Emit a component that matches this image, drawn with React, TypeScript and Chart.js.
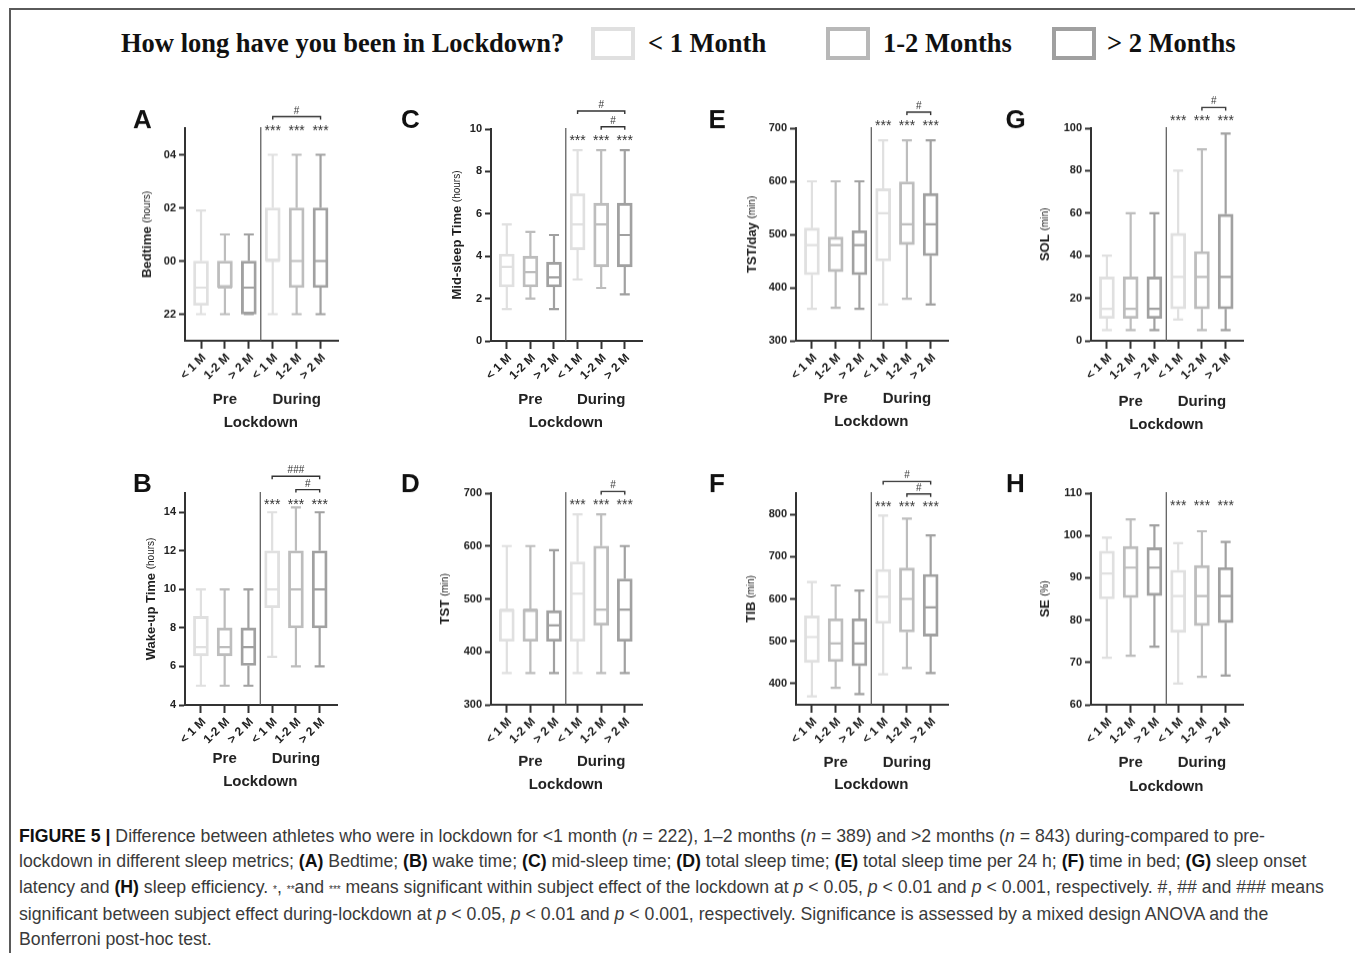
import React, { useEffect, useRef } from 'react';
import { Chart, registerables } from 'chart.js';

Chart.register(...registerables);

// ---------- DATA ----------
const categories = ['< 1 M', '1-2 M', '> 2 M', '< 1 M', '1-2 M', '> 2 M'];
const groupLabels = ['< 1 Month', '1-2 Months', '> 2 Months'];
const groupColors = ['#e0e0e0', '#bdbdbd', '#a1a1a1'];
const legendColors = ['#e0e0e0', '#b8b8b8', '#a0a0a0'];

// each entry: [min, q1, median, q3, max]
const bedtime = [
  [22, 22.33, 23, 24, 25.9], [22, 23, 23, 24, 25], [22, 22, 23, 24, 25],
  [22, 24, 24, 26, 28], [22, 23, 24, 26, 28], [22, 23, 24, 26, 28],
];
const bedtimeTicks = [22, 24, 26, 28];

const wakeTime = [
  [5, 6.55, 7, 8.6, 10], [5, 6.55, 7, 8, 10], [5, 6.05, 7, 8, 10],
  [6.5, 9.05, 10, 12, 14], [6, 8, 10, 12, 14.25], [6, 8, 10, 12, 14],
];
const wakeTicks = [4, 6, 8, 10, 12, 14];

const midSleep = [
  [1.5, 2.55, 3.5, 4.1, 5.5], [2, 2.55, 3.25, 4, 5.15], [1.5, 2.55, 3, 3.72, 5],
  [2.9, 4.3, 5.5, 6.95, 9], [2.5, 3.5, 5.5, 6.5, 9], [2.2, 3.5, 5, 6.5, 9],
];
const midSleepTicks = [0, 2, 4, 6, 8, 10];

const tst = [
  [360, 420, 480, 480, 600], [360, 420, 480, 480, 600], [360, 420, 450, 478, 592],
  [360, 420, 510, 570, 660], [360, 450, 480, 600, 660], [360, 420, 480, 538, 600],
];
const tstTicks = [300, 400, 500, 600, 700];

const tstDay = [
  [360, 424, 480, 512, 600], [362, 430, 480, 495, 600], [360, 424, 480, 507, 600],
  [368, 450, 540, 586, 677], [379, 481, 519, 599, 677], [368, 460, 519, 577, 677],
];
const tstDayTicks = [300, 400, 500, 600, 700];

const tib = [
  [370, 450, 510, 560, 640], [390, 452, 495, 553, 632], [375, 442, 495, 553, 620],
  [422, 542, 605, 670, 797], [437, 522, 600, 673, 790], [425, 512, 580, 658, 750],
];
const tibTicks = [400, 500, 600, 700, 800];

const sol = [
  [5, 10.5, 15, 30, 40], [5, 10.5, 15, 30, 60], [5, 10.5, 15, 30, 60],
  [10, 15, 30, 50.5, 80], [5, 15, 30, 42, 90], [5, 15, 30, 59.5, 97.5],
];
const solTicks = [0, 20, 40, 60, 80, 100];

const se = [
  [71.1, 85, 91, 96.3, 99.5], [71.6, 85.3, 92.4, 97.4, 103.8], [73.7, 85.8, 92.4, 97.1, 102.4],
  [65, 77.1, 85.7, 91.8, 98.2], [66.6, 78.7, 85.7, 92.9, 101], [66.9, 79.4, 85.7, 92.4, 98.5],
];
const seTicks = [60, 70, 80, 90, 100, 110];

// ---------- LAYOUT ----------
type Bracket = { from: number; to: number; dy: number; label: string };
type Panel = {
  letter: string; title: string; unit: string;
  data: number[][]; yMin: number; yMax: number; yTicks: number[];
  fmt?: (v: number) => string;
  plot: { l: number; r: number; t: number; b: number };
  letterDx: number; letterDy: number; titleDx: number; starsDy: number;
  brackets: Bracket[]; preDy: number; lockDy: number;
};

const hourFmt = (v: number) => String(((v % 24) + 24) % 24).padStart(2, '0');

const panels: Panel[] = [
  { letter: 'A', title: 'Bedtime', unit: '(hours)', data: bedtime, yMin: 21, yMax: 29, yTicks: bedtimeTicks, fmt: hourFmt,
    plot: { l: 185, r: 338, t: 128.3, b: 341 }, letterDx: -52, letterDy: 0, titleDx: -38, starsDy: -1,
    brackets: [{ from: 3, to: 5, dy: -11.5, label: '#' }], preDy: 59, lockDy: 82 },
  { letter: 'C', title: 'Mid-sleep Time', unit: '(hours)', data: midSleep, yMin: 0, yMax: 10, yTicks: midSleepTicks,
    plot: { l: 490.7, r: 641.7, t: 129, b: 341 }, letterDx: -90, letterDy: -0.7, titleDx: -34, starsDy: 7.7,
    brackets: [{ from: 3, to: 5, dy: -18, label: '#' }, { from: 4, to: 5, dy: -2.3, label: '#' }], preDy: 59, lockDy: 82 },
  { letter: 'E', title: 'TST/day', unit: '(min)', data: tstDay, yMin: 300, yMax: 700, yTicks: tstDayTicks,
    plot: { l: 795.7, r: 948.3, t: 128.3, b: 341 }, letterDx: -87.5, letterDy: 0, titleDx: -44, starsDy: -5.6,
    brackets: [{ from: 4, to: 5, dy: -16, label: '#' }], preDy: 58, lockDy: 81 },
  { letter: 'G', title: 'SOL', unit: '(min)', data: sol, yMin: 0, yMax: 100, yTicks: solTicks,
    plot: { l: 1090.7, r: 1242.7, t: 128.3, b: 341 }, letterDx: -85.5, letterDy: 0, titleDx: -45.7, starsDy: -10.6,
    brackets: [{ from: 4, to: 5, dy: -20.6, label: '#' }], preDy: 61, lockDy: 84 },
  { letter: 'B', title: 'Wake-up Time', unit: '(hours)', data: wakeTime, yMin: 4, yMax: 15, yTicks: wakeTicks,
    plot: { l: 185, r: 337.3, t: 492.7, b: 705 }, letterDx: -52, letterDy: -1, titleDx: -33.3, starsDy: 8,
    brackets: [{ from: 3, to: 5, dy: -16.7, label: '###' }, { from: 4, to: 5, dy: -3.4, label: '#' }], preDy: 54, lockDy: 77 },
  { letter: 'D', title: 'TST', unit: '(min)', data: tst, yMin: 300, yMax: 700, yTicks: tstTicks,
    plot: { l: 490.7, r: 641.7, t: 493.3, b: 705 }, letterDx: -90, letterDy: -1, titleDx: -45.7, starsDy: 8.4,
    brackets: [{ from: 4, to: 5, dy: -1.6, label: '#' }], preDy: 57, lockDy: 80 },
  { letter: 'F', title: 'TIB', unit: '(min)', data: tib, yMin: 350, yMax: 850, yTicks: tibTicks,
    plot: { l: 796, r: 948.3, t: 493.3, b: 705 }, letterDx: -87, letterDy: -1, titleDx: -44.3, starsDy: 10,
    brackets: [{ from: 3, to: 5, dy: -11.6, label: '#' }, { from: 4, to: 5, dy: 0.7, label: '#' }], preDy: 58, lockDy: 80 },
  { letter: 'H', title: 'SE', unit: '(%)', data: se, yMin: 60, yMax: 110, yTicks: seTicks,
    plot: { l: 1090.7, r: 1242.7, t: 493.3, b: 705 }, letterDx: -85, letterDy: -1, titleDx: -45.7, starsDy: 9.4,
    brackets: [], preDy: 58, lockDy: 82 },
];

const SANS = "'Liberation Sans', Arial, Helvetica, sans-serif";
const INK = '#222';
const ML = 100, MT = 45, MR = 10, MB = 100;

function makePlugin(p: Panel) {
  return {
    id: 'boxExtras',
    afterDatasetsDraw(chart: any) {
      const { ctx, chartArea: ca, scales } = chart;
      const x = scales.x, y = scales.y;
      ctx.save();
      // separator Pre | During
      const sx = x.getPixelForValue(2.5);
      ctx.strokeStyle = '#555';
      ctx.lineWidth = 1.2;
      ctx.beginPath();
      ctx.moveTo(sx, ca.top - 1);
      ctx.lineTo(sx, ca.bottom);
      ctx.stroke();
      // whiskers + medians
      p.data.forEach((d, i) => {
        const cx = x.getPixelForValue(i);
        const [mn, q1, med, q3, mx] = d.map((v) => y.getPixelForValue(v));
        ctx.strokeStyle = groupColors[i % 3];
        ctx.lineWidth = 2.2;
        ctx.beginPath();
        ctx.moveTo(cx, q3); ctx.lineTo(cx, mx);
        ctx.moveTo(cx - 5, mx); ctx.lineTo(cx + 5, mx);
        ctx.moveTo(cx, q1); ctx.lineTo(cx, mn);
        ctx.moveTo(cx - 5, mn); ctx.lineTo(cx + 5, mn);
        ctx.moveTo(cx - 7, med); ctx.lineTo(cx + 7, med);
        ctx.stroke();
      });
      // stars
      ctx.fillStyle = '#333';
      ctx.font = `14px ${SANS}`;
      ctx.textAlign = 'center';
      ctx.textBaseline = 'alphabetic';
      [3, 4, 5].forEach((i) => {
        ctx.fillText('***', x.getPixelForValue(i), ca.top + p.starsDy + 0.57 * 14);
      });
      // brackets
      ctx.strokeStyle = '#333';
      ctx.lineWidth = 1.4;
      ctx.font = `10px ${SANS}`;
      p.brackets.forEach((b) => {
        const x1 = x.getPixelForValue(b.from), x2 = x.getPixelForValue(b.to);
        const by = ca.top + b.dy;
        ctx.beginPath();
        ctx.moveTo(x1, by + 3); ctx.lineTo(x1, by); ctx.lineTo(x2, by); ctx.lineTo(x2, by + 3);
        ctx.stroke();
        ctx.fillText(b.label, (x1 + x2) / 2, by - 3);
      });
      // panel letter
      ctx.fillStyle = '#111';
      ctx.font = `bold 26px ${SANS}`;
      ctx.textAlign = 'left';
      ctx.fillText(p.letter, ca.left + p.letterDx, ca.top + p.letterDy);
      // y-axis title (mixed weights)
      ctx.save();
      ctx.translate(ca.left + p.titleDx, (ca.top + ca.bottom) / 2);
      ctx.rotate(-Math.PI / 2);
      ctx.textBaseline = 'middle';
      const mainFont = `bold 13px ${SANS}`, unitFont = `10px ${SANS}`;
      ctx.font = mainFont;
      const w1 = ctx.measureText(p.title + ' ').width;
      ctx.font = unitFont;
      const w2 = ctx.measureText(p.unit).width;
      const start = -(w1 + w2) / 2;
      ctx.fillStyle = INK;
      ctx.font = mainFont;
      ctx.fillText(p.title + ' ', start, 0);
      ctx.font = unitFont;
      ctx.fillText(p.unit, start + w1, 0);
      ctx.restore();
      // group labels
      ctx.fillStyle = INK;
      ctx.font = `bold 15px ${SANS}`;
      ctx.textAlign = 'center';
      ctx.textBaseline = 'middle';
      ctx.fillText('Pre', x.getPixelForValue(1), ca.bottom + p.preDy);
      ctx.fillText('During', x.getPixelForValue(4), ca.bottom + p.preDy);
      ctx.fillText('Lockdown', x.getPixelForValue(2.5), ca.bottom + p.lockDy);
      ctx.restore();
    },
  };
}

function BoxPanel({ p }: { p: Panel }) {
  const ref = useRef<HTMLCanvasElement>(null);
  const width = p.plot.r - p.plot.l + ML + MR;
  const height = p.plot.b - p.plot.t + MT + MB;
  useEffect(() => {
    const chart = new Chart(ref.current as HTMLCanvasElement, {
      type: 'bar',
      data: {
        datasets: [{
          data: p.data.map((d, i) => ({ x: i, y: [d[1], d[3]] })) as any,
          backgroundColor: 'rgba(0,0,0,0)',
          borderColor: p.data.map((_, i) => groupColors[i % 3]),
          borderWidth: 2.2,
          borderSkipped: false,
          barThickness: 15,
        }],
      },
      options: {
        responsive: false,
        animation: false,
        events: [],
        layout: { padding: { left: 0, top: MT, right: MR, bottom: 0 } },
        plugins: { legend: { display: false }, tooltip: { enabled: false } },
        scales: {
          x: {
            type: 'linear', min: -0.67, max: 5.73, offset: false, bounds: 'data',
            afterBuildTicks: (s: any) => { s.ticks = categories.map((_, i) => ({ value: i })); },
            afterFit: (s: any) => { s.height = MB; },
            ticks: {
              callback: (v: any) => categories[Math.round(Number(v))],
              minRotation: 45, maxRotation: 45, autoSkip: false, padding: 2, labelOffset: 3,
              color: INK, font: { family: SANS, size: 12, weight: 'bold' },
            },
            grid: { display: true, drawOnChartArea: false, drawTicks: true, tickLength: 8, tickWidth: 2, tickColor: '#333', offset: false },
            border: { display: true, color: '#333', width: 2 },
          },
          y: {
            type: 'linear', min: p.yMin, max: p.yMax, bounds: 'data',
            afterBuildTicks: (s: any) => { s.ticks = p.yTicks.map((v) => ({ value: v })); },
            afterFit: (s: any) => { s.width = ML; },
            ticks: {
              callback: (v: any) => (p.fmt ? p.fmt(Number(v)) : String(v)),
              padding: 3, color: INK, font: { family: SANS, size: 11, weight: 'bold' },
            },
            grid: { display: true, drawOnChartArea: false, drawTicks: true, tickLength: 6, tickWidth: 2, tickColor: '#333' },
            border: { display: true, color: '#333', width: 2 },
          },
        },
      } as any,
      plugins: [makePlugin(p)],
    });
    return () => chart.destroy();
  }, [p]);
  return (
    <canvas
      ref={ref}
      width={width}
      height={height}
      style={{ position: 'absolute', left: p.plot.l - ML, top: p.plot.t - MT, width, height }}
    />
  );
}

const legendItems = [
  { box: 591, text: 648 },
  { box: 826, text: 883 },
  { box: 1052, text: 1107 },
];

export default function App() {
  const serif = "'Liberation Serif', 'Times New Roman', serif";
  const ital = { fontStyle: 'italic' as const };
  const b = { fontWeight: 'bold' as const, color: '#111' };
  const star = { fontSize: 10 };
  const legendText = { position: 'absolute' as const, top: 30, fontFamily: serif, fontWeight: 'bold' as const, fontSize: 26.5, lineHeight: '27px', color: '#111', whiteSpace: 'nowrap' as const };
  return (
    <div style={{ position: 'absolute', left: 0, top: 0, width: 1355, height: 953, background: '#fff', overflow: 'hidden' }}>
      <div style={{ position: 'absolute', left: 9, top: 8, width: 1346, height: 945, borderTop: '2px solid #5a5a5a', borderLeft: '2px solid #5a5a5a', boxSizing: 'border-box' }} />
      {/* legend */}
      <div style={{ ...legendText, left: 121 }}>How long have you been in Lockdown?</div>
      {legendItems.map((it, i) => (
        <React.Fragment key={i}>
          <div style={{ position: 'absolute', left: it.box, top: 27, width: 44, height: 33, boxSizing: 'border-box', border: `4px solid ${legendColors[i]}` }} />
          <div style={{ ...legendText, left: it.text }}>{groupLabels[i]}</div>
        </React.Fragment>
      ))}
      {panels.map((p) => <BoxPanel key={p.letter} p={p} />)}
      {/* caption */}
      <div style={{ position: 'absolute', left: 19, top: 824, fontFamily: SANS, fontSize: 17.7, lineHeight: '25.3px', color: '#3a3a3a', whiteSpace: 'nowrap' }}>
        <span style={b}>FIGURE 5 |</span> Difference between athletes who were in lockdown for &lt;1 month (<span style={ital}>n</span> = 222), 1–2 months (<span style={ital}>n</span> = 389) and &gt;2 months (<span style={ital}>n</span> = 843) during-compared to pre-<br />
        lockdown in different sleep metrics; <span style={b}>(A)</span> Bedtime; <span style={b}>(B)</span> wake time; <span style={b}>(C)</span> mid-sleep time; <span style={b}>(D)</span> total sleep time; <span style={b}>(E)</span> total sleep time per 24 h; <span style={b}>(F)</span> time in bed; <span style={b}>(G)</span> sleep onset<br />
        latency and <span style={b}>(H)</span> sleep efficiency. <span style={star}>*</span>, <span style={star}>**</span>and <span style={star}>***</span> means significant within subject effect of the lockdown at <span style={ital}>p</span> &lt; 0.05, <span style={ital}>p</span> &lt; 0.01 and <span style={ital}>p</span> &lt; 0.001, respectively. #, ## and ### means<br />
        significant between subject effect during-lockdown at <span style={ital}>p</span> &lt; 0.05, <span style={ital}>p</span> &lt; 0.01 and <span style={ital}>p</span> &lt; 0.001, respectively. Significance is assessed by a mixed design ANOVA and the<br />
        Bonferroni post-hoc test.
      </div>
    </div>
  );
}
